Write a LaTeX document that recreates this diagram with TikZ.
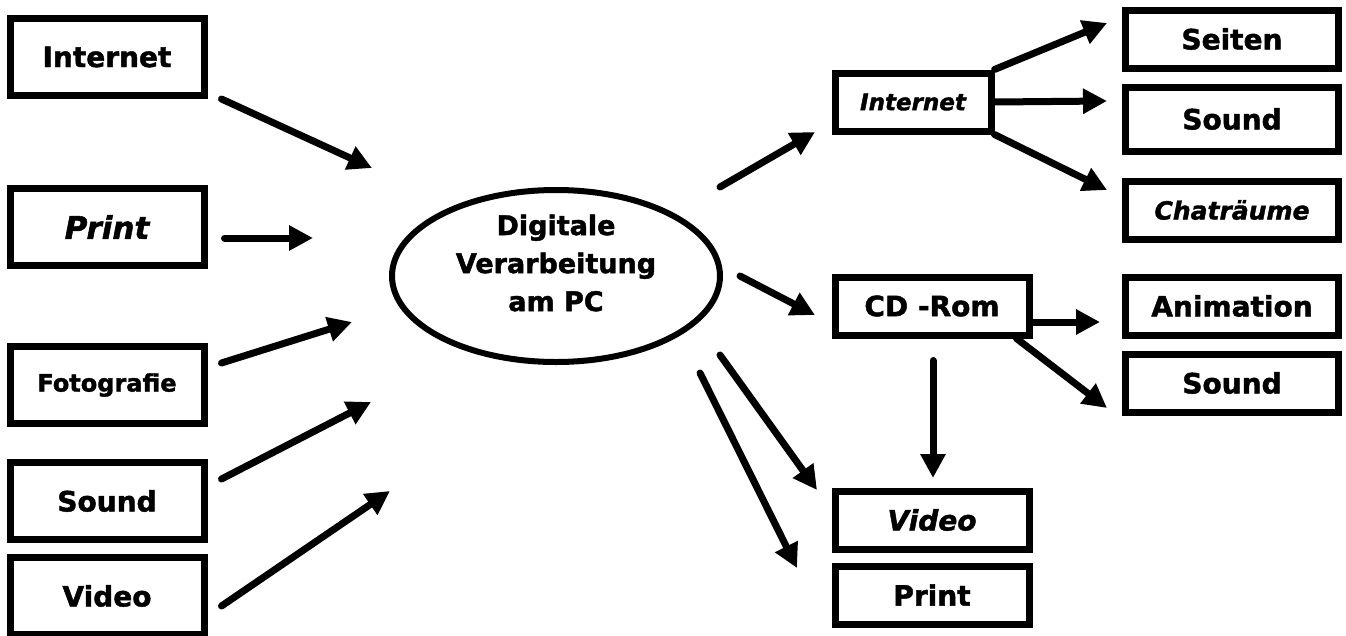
\documentclass[tikz,border=0pt]{standalone}
\usepackage{fontspec}
\setmainfont{DejaVu Sans}[BoldFeatures={FakeBold=1.6}, BoldItalicFeatures={FakeBold=1.6}]
\usepackage{tikz}
\usetikzlibrary{shapes.geometric, arrows.meta, positioning, calc}

\tikzset{
  feld/.style={draw, line width=7pt, inner sep=0pt, minimum width=194pt, minimum height=77pt,
    font=\fontsize{28}{32}\selectfont\bfseries},
  feldr/.style={feld, minimum width=213pt, minimum height=58pt},
  feldm/.style={feld, minimum width=194pt, minimum height=58pt},
  pfeil/.style={line width=7pt, line cap=round, -{Triangle[length=24pt,width=24pt]}}
}

\begin{document}
\begin{tikzpicture}[x=1pt, y=-1pt]
\useasboundingbox[fill=white] (0,0) rectangle (1346,635);

% --- Quellen links ---
\node[feld] (quInternet) at (107,57) {Internet};
\node[feld, font=\fontsize{31}{35}\selectfont\bfseries\itshape] (quPrint) at (107,227) {Print};
\node[feld, font=\fontsize{24}{28}\selectfont\bfseries] (quFoto) at (107,385) {Fotografie};
\node[feld] (quSound) at (107,501) {Sound};
\node[feld] (quVideo) at (107,596) {Video};

% --- Mitte ---
\node[ellipse, draw, line width=6pt, inner sep=0pt, minimum width=328pt, minimum height=172pt] (pc) at (556,276) {};
\node[align=center, font=\fontsize{27}{38}\selectfont\bfseries] (pcText) at ($(pc)+(0,-13)$)
  {Digitale\\Verarbeitung\\am PC};

% --- Ausgabe rechts ---
\node[feld, minimum width=156pt, minimum height=58pt, font=\fontsize{23}{27}\selectfont\bfseries\itshape] (ziInternet) at (913,102) {Internet};
\node[feldr] (ziSeiten) at (1232,39) {Seiten};
\node[feldr, minimum height=64pt] (ziSound) at (1232,119) {Sound};
\node[feldr, font=\fontsize{25}{29}\selectfont\bfseries\itshape] (ziChat) at (1232,210) {Chaträume};
\node[feldm] (ziCD) at (932,306) {CD -Rom};
\node[feldr] (ziAnim) at (1232,306) {Animation};
\node[feldr] (ziSoundB) at (1232,383) {Sound};
\node[feldm, font=\fontsize{28}{32}\selectfont\bfseries\itshape] (ziVideo) at (932,520) {Video};
\node[feldm] (ziPrint) at (932,595) {Print};

% Pfeilspitzen
\coordinate (s1) at (372,168);
\coordinate (s2) at (313,238);
\coordinate (s3) at (352,322);
\coordinate (s4) at (371,402);
\coordinate (s5) at (390,491);
\coordinate (s6) at (815,132);
\coordinate (s7) at (815,315);
\coordinate (s8) at (817,490);
\coordinate (s9) at (797,568);
\coordinate (s10) at (1107,23);
\coordinate (s11) at (1107,101);
\coordinate (s12) at (1107,190);
\coordinate (s13) at (1100,322);
\coordinate (s14) at (1107,408);
\coordinate (s15) at (933,478);

% --- Pfeile ---
\draw[pfeil] ($(quInternet.south east)+(14,0)$) -- (s1);
\draw[pfeil] ($(quPrint.east)+(17,11)$) -- (s2);
\draw[pfeil] ($(quFoto.east)+(14,-22)$) -- (s3);
\draw[pfeil] ($(quSound.east)+(14,-22)$) -- (s4);
\draw[pfeil] ($(quVideo.east)+(14,10)$) -- (s5);
\draw[pfeil] ($(pc)+(164,-89)$) -- (s6);
\draw[pfeil] ($(pc)+(184,0)$) -- (s7);
\draw[pfeil] ($(pc)+(164,79)$) -- (s8);
\draw[pfeil] ($(pc)+(144,97)$) -- (s9);
\draw[pfeil] (ziInternet.north east) -- (s10);
\draw[pfeil] (ziInternet.east) -- (s11);
\draw[pfeil] (ziInternet.south east) -- (s12);
\draw[pfeil] ($(ziCD.east)+(0,16)$) -- (s13);
\draw[pfeil] ($(ziCD.south east)+(-16,0)$) -- (s14);
\draw[pfeil] ($(ziCD.south)+(1,22)$) -- (s15);
\end{tikzpicture}
\end{document}
